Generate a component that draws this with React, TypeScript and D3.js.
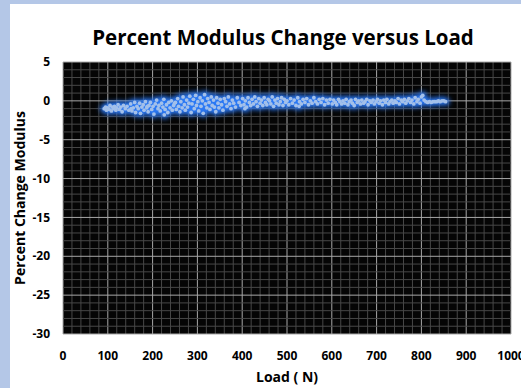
import React from 'react';
import * as d3 from 'd3';

// load (N) and percent modulus change
const loads = [
  92, 95, 97, 100, 103, 105, 108, 110, 113, 115, 118, 120, 123, 126, 129, 132, 135, 139, 143, 147,
  151, 154, 157, 160, 162, 165, 168, 171, 173, 176, 179, 181, 184, 187, 190, 192, 195, 198, 201, 203,
  206, 209, 212, 214, 217, 220, 223, 225, 228, 231, 234, 236, 239, 242, 244, 247, 249, 152, 188, 226,
  251, 253, 256, 258, 261, 263, 266, 268, 271, 273, 276, 278, 281, 283, 286, 288, 291, 293, 296, 298,
  301, 303, 306, 308, 311, 313, 316, 318, 321, 323, 326, 328, 331, 333, 336, 338, 341, 343, 346, 348,
  351, 354, 357, 360, 363, 366, 369, 372, 375, 378, 381, 385, 389, 393, 397,
  401, 404, 407, 410, 413, 416, 419, 422, 425, 428, 431, 434, 437, 440, 443, 446, 449, 452, 455, 458,
  461, 464, 467, 470, 473, 476, 479, 482, 485, 488, 491, 494, 497, 500, 504, 508, 512, 516, 520, 524,
  528, 532, 536, 540, 544, 548, 552, 556, 560, 564, 568, 572, 576, 580, 584, 588, 592, 596, 406, 527,
  601, 604, 608, 611, 615, 618, 622, 625, 629, 632, 636, 639, 643, 646, 650, 653, 657, 660, 664, 667,
  671, 674, 678, 681, 685, 688, 692, 695, 699, 702, 706, 709, 713, 716, 720, 723, 727, 730, 734, 737,
  741, 744, 748, 751, 755, 758, 762, 765, 769, 772, 776, 779, 783, 786, 790, 793, 797, 800, 803, 806,
  810, 814, 818, 822, 826, 830, 834, 838, 842, 846, 850, 854,
];

const changes = [
  -1.0, -0.8, -1.2, -0.9, -1.1, -0.6, -1.3, -0.8, -1.0, -0.7, -1.2, -0.9, -0.5, -1.1, -0.8, -1.4, -0.6, -1.0, -0.7, -1.2,
  -0.4, -1.3, -0.9, -0.2, -1.5, -0.7, -1.0, -0.3, -1.6, -0.8, -0.5, -1.2, -0.1, -0.9, -1.4, -0.6, -0.2, -1.1, -0.7, -1.7,
  -0.4, 0.1, -1.0, -0.6, -1.3, -0.3, -0.8, 0.2, -1.1, -0.5, -1.5, -0.2, -0.9, 0.0, -1.2, -0.6, -0.3, -1.0, -0.7, -1.8,
  -0.2, -1.1, 0.3, -0.7, -1.4, -0.1, -0.9, 0.5, -0.5, -1.2, 0.1, -0.8, -0.3, 0.6, -1.5, -0.4, 0.2, -1.0, 0.7, -0.6,
  -0.1, -1.3, 0.4, -0.7, 0.0, -1.6, 0.8, -0.4, -0.9, 0.3, -0.2, -1.1, 0.5, -0.6, 0.1, -0.8, -1.4, 0.4, -0.3, -0.9,
  0.2, -0.5, -1.2, 0.3, -0.1, -0.7, 0.5, -0.4, -1.0, 0.1, -0.3, -0.8, 0.4, -0.2, -0.6,
  0.3, -0.5, 0.0, -0.8, 0.4, -0.2, -0.6, 0.2, -0.4, 0.5, -0.1, -0.7, 0.3, -0.3, 0.1, -0.6, 0.4, -0.2, -0.5, 0.2,
  0.0, -0.4, 0.5, -0.7, 0.1, -0.3, 0.3, -0.5, -0.1, 0.4, -0.6, 0.2, -0.2, 0.0, -0.5, 0.3, -0.3, 0.1, -0.6, 0.4,
  -0.1, -0.4, 0.2, -0.2, 0.3, -0.5, 0.0, -0.3, 0.4, -0.1, -0.4, 0.2, -0.2, 0.3, -0.5, 0.1, -0.3, 0.2, -1.0, -0.7,
  -0.4, 0.1, -0.2, -0.5, 0.2, -0.1, -0.4, 0.0, -0.3, 0.2, -0.5, -0.1, 0.1, -0.3, -0.6, 0.2, -0.2, 0.0, -0.4, 0.1,
  -0.3, -0.1, 0.2, -0.5, 0.0, -0.2, 0.1, -0.4, -0.1, 0.2, -0.3, 0.0, -0.5, 0.1, -0.2, 0.2, -0.4, -0.1, 0.1, -0.3,
  0.0, -0.2, 0.3, -0.4, 0.1, -0.1, 0.2, -0.3, 0.0, 0.3, -0.2, 0.1, -0.4, 0.4, -0.1, 0.2, -0.3, 0.5, 0.7, 0.1,
  -0.1, -0.2, -0.1, -0.2, -0.1, -0.1, -0.1, 0.0, -0.1, 0.0, 0.0, -0.1,
];

const xTicks = [0, 100, 200, 300, 400, 500, 600, 700, 800, 900, 1000];
const yTicks = [5, 0, -5, -10, -15, -20, -25, -30];

const W = 521;
const H = 388;
const font = '"Open Sans", "DejaVu Sans", sans-serif';

export default function App() {
  const left = 63;
  const right = 511;
  const top = 62;
  const bottom = 334;

  const x = d3.scaleLinear().domain([0, 1000]).range([left, right]);
  const y = d3.scaleLinear().domain([-30, 5]).range([bottom, top]);

  // minor grid every 20 N and every 1 %, major on the ticks
  const xMinor = d3.range(0, 1001, 20);
  const yMinor = d3.range(-30, 6, 1);

  const pts = loads.map((l, i) => [l, changes[i]] as [number, number]);

  return (
    <div style={{ position: 'fixed', left: 0, top: 0 }}>
      <svg width={W} height={H} style={{ display: 'block' }}>
        <defs>
          <filter id="glow" x="-50%" y="-50%" width="200%" height="200%">
            <feGaussianBlur stdDeviation="2.5" />
          </filter>
        </defs>
        <rect width={W} height={H} fill="#b4c7e7" />
        <rect x={10} y={4} width={W - 10} height={H - 4} fill="#ffffff" />

        <text
          x={(left + right) / 2 - 4}
          y={45}
          textAnchor="middle"
          fontFamily={font}
          fontWeight={700}
          fontSize={20.5}
          fill="#000"
        >
          Percent Modulus Change versus Load
        </text>

        <rect x={left} y={top} width={right - left} height={bottom - top} fill="#050505" />
        <g>
          {xMinor.map((v) => (
            <line
              key={'xm' + v}
              x1={x(v)}
              x2={x(v)}
              y1={top}
              y2={bottom}
              stroke={v % 100 === 0 ? '#a8a8a8' : '#484848'}
              strokeWidth={1}
            />
          ))}
          {yMinor.map((v) => (
            <line
              key={'ym' + v}
              x1={left}
              x2={right}
              y1={y(v)}
              y2={y(v)}
              stroke={v % 5 === 0 ? '#a8a8a8' : '#484848'}
              strokeWidth={1}
            />
          ))}
        </g>

        <g filter="url(#glow)">
          {pts.map((p, i) => (
            <circle key={'g' + i} cx={x(p[0])} cy={y(p[1])} r={3.9} fill="#2a78f4" />
          ))}
        </g>
        <g>
          {pts.map((p, i) => (
            <circle key={'d' + i} cx={x(p[0])} cy={y(p[1])} r={1.9} fill="#a3c0ea" />
          ))}
        </g>

        {yTicks.map((v) => (
          <text
            key={'yt' + v}
            x={50}
            y={y(v)}
            dy="0.35em"
            textAnchor="end"
            fontFamily={font}
            fontWeight={700}
            fontSize={12}
            fill="#000"
          >
            {v}
          </text>
        ))}
        {xTicks.map((v) => (
          <text
            key={'xt' + v}
            x={x(v)}
            y={360}
            textAnchor="middle"
            fontFamily={font}
            fontWeight={700}
            fontSize={12}
            fill="#000"
          >
            {v}
          </text>
        ))}

        <text
          transform={`translate(25, ${(top + bottom) / 2}) rotate(-90)`}
          textAnchor="middle"
          fontFamily={font}
          fontWeight={700}
          fontSize={14}
          fill="#000"
        >
          Percent Change Modulus
        </text>
        <text
          x={(left + right) / 2}
          y={382}
          textAnchor="middle"
          fontFamily={font}
          fontWeight={700}
          fontSize={14}
          fill="#000"
        >
          Load ( N)
        </text>
      </svg>
    </div>
  );
}
